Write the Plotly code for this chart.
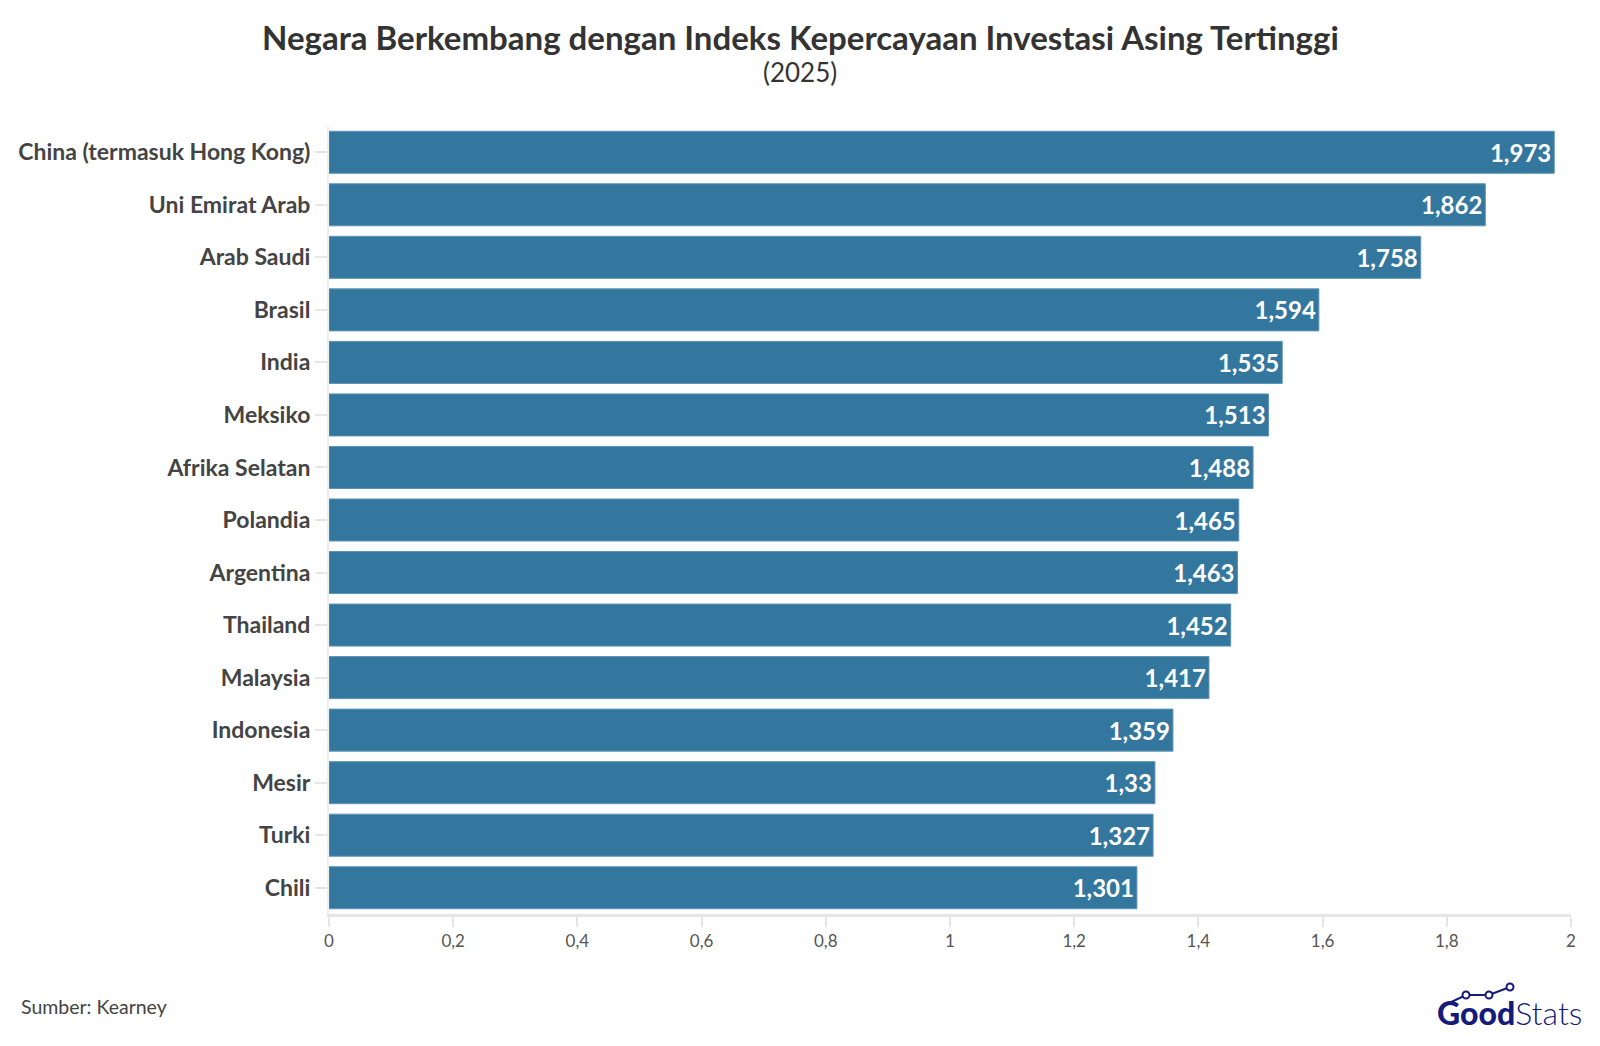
import plotly.graph_objects as go

countries = ["China (termasuk Hong Kong)", "Uni Emirat Arab", "Arab Saudi", "Brasil", "India",
             "Meksiko", "Afrika Selatan", "Polandia", "Argentina", "Thailand", "Malaysia",
             "Indonesia", "Mesir", "Turki", "Chili"]
values = [1.973, 1.862, 1.758, 1.594, 1.535, 1.513, 1.488, 1.465, 1.463, 1.452, 1.417,
          1.359, 1.33, 1.327, 1.301]
x_ticks = [0, 0.2, 0.4, 0.6, 0.8, 1, 1.2, 1.4, 1.6, 1.8, 2]

FONT = "Lato"
labels = [f"{v:g}".replace(".", ",") for v in values]

# page has an 8px body margin; figure sized to fit inside the viewport
OFF = 8
W, H = 1600 - 2 * OFF, 1046 - 2 * OFF
L, R, T, B = 321, 21, 118, 124
PW, PH = W - L - R, H - T - B


def px(page_x):
    return (page_x - OFF - L) / PW


def py(page_y):
    return (H - B - (page_y - OFF)) / PH


fig = go.Figure(go.Bar(
    x=values, y=countries, orientation="h",
    marker=dict(color="#33779f", line=dict(color="#5d93b6", width=1)),
    text=labels, textposition="inside", insidetextanchor="end", textangle=0,
    constraintext="none",
    textfont=dict(family=FONT, size=24, color="white", weight="bold"),
    hoverinfo="skip",
))

fig.update_layout(
    width=W, height=H,
    paper_bgcolor="white", plot_bgcolor="white",
    margin=dict(l=L, r=R, t=T, b=B, autoexpand=False),
    bargap=0.2,
    separators=",.",
    showlegend=False,
    font=dict(family=FONT),
)

fig.update_yaxes(
    categoryorder="array", categoryarray=countries, autorange="reversed",
    automargin=False,
    tickfont=dict(family=FONT, size=23, color="#444444", weight="bold"),
    ticks="outside", ticklen=12, tickcolor="#e6e6e6", tickwidth=2,
    showline=True, linecolor="#eeeeee", linewidth=2,
    showgrid=False, zeroline=False,
)
fig.update_xaxes(
    range=[0, 2], tickvals=x_ticks, tickformat="~g",
    automargin=False,
    tickfont=dict(family=FONT, size=17, color="#555555"),
    ticks="outside", ticklen=10, tickcolor="#e6e6e6", tickwidth=2,
    showline=True, linecolor="#e6e6e6", linewidth=3,
    showgrid=False, zeroline=False,
)

# Title & subtitle
fig.add_annotation(text="<b>Negara Berkembang dengan Indeks Kepercayaan Investasi Asing Tertinggi</b>",
                   xref="paper", yref="paper", x=px(800), y=py(37),
                   xanchor="center", yanchor="middle", showarrow=False,
                   font=dict(family=FONT, size=33, color="#333333"))
fig.add_annotation(text="(2025)",
                   xref="paper", yref="paper", x=px(800), y=py(72),
                   xanchor="center", yanchor="middle", showarrow=False,
                   font=dict(family=FONT, size=26, color="#333333"))

fig.add_annotation(text="Sumber: Kearney", xref="paper", yref="paper",
                   x=px(19), xanchor="left", y=py(1006), yanchor="middle", showarrow=False,
                   font=dict(family=FONT, size=19.5, color="#444444"))

# GoodStats logo
fig.add_annotation(text="<span style='font-weight:900'>Good</span><span style='font-weight:300'>Stats</span>",
                   xref="paper", yref="paper",
                   x=px(1584), xanchor="right",
                   y=py(1012), yanchor="middle", showarrow=False,
                   font=dict(family=FONT, size=32, color="#151b7a"))

# small line icon above logo
pts = [(1447, 1004), (1466, 995), (1489, 995), (1510, 987)]
path = "M " + " L ".join(f"{px(a)},{py(b)}" for a, b in pts)
fig.add_shape(type="path", path=path, xref="paper", yref="paper",
              line=dict(color="#151b7a", width=2))
for a, b in pts[1:]:
    fig.add_shape(type="circle", xref="paper", yref="paper",
                  x0=px(a - 3.5), x1=px(a + 3.5), y0=py(b + 3.5), y1=py(b - 3.5),
                  line=dict(color="#151b7a", width=2), fillcolor="white")

fig.write_html("out.html")
